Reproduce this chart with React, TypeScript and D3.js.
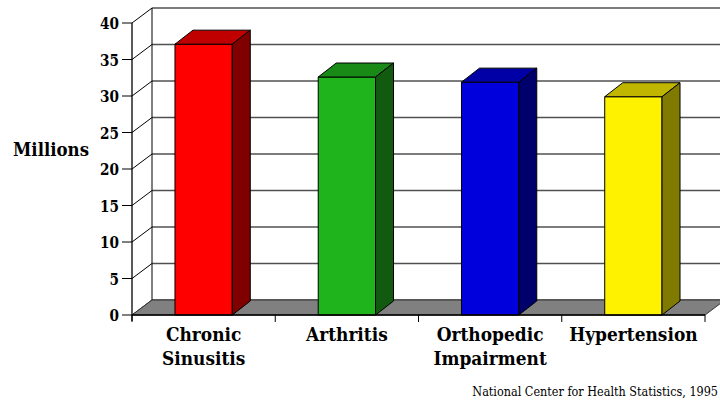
import * as d3 from "d3";

// chart data
const categories = ["Chronic Sinusitis", "Arthritis", "Orthopedic Impairment", "Hypertension"];
const labelLines = [["Chronic", "Sinusitis"], ["Arthritis"], ["Orthopedic", "Impairment"], ["Hypertension"]];
const values = [37.1, 32.6, 31.9, 29.9];
const yTicks = [0, 5, 10, 15, 20, 25, 30, 35, 40];

// front / top / side shades for each bar
const faceColors = ["#ff0000", "#20b41c", "#0000dd", "#fff200"];
const topColors = ["#c00000", "#1a8a16", "#0000a6", "#c0b600"];
const sideColors = ["#800000", "#125a10", "#00006c", "#807a00"];

const W = 720;
const H = 400;
const left = 132;
const right = 705;
const bottom = 315;
const top = 23;
// depth of the walls and of the bars
const wallDx = 20;
const wallDy = -15;
const barDx = 18;
const barDy = -14;

// DejaVu Serif is the only serif face available; squeeze it to look like Times
const font = "'DejaVu Serif', serif";

export default function App() {
  const x = d3
    .scaleBand<string>()
    .domain(categories)
    .range([left, right])
    .paddingInner(0.6)
    .paddingOuter(0.3);
  const y = d3.scaleLinear().domain([0, 40]).range([bottom, top]);
  const step = x.step();
  const bw = x.bandwidth();

  const pts = (p: number[][]) => p.map((d) => d.join(",")).join(" ");

  return (
    <svg
      width={W}
      height={H}
      style={{ position: "absolute", left: 0, top: 0, background: "#fff" }}
      fontFamily={font}
    >
      {/* back wall grid lines */}
      {yTicks.map((t) => (
        <line
          key={"g" + t}
          x1={left + wallDx}
          x2={W + 10}
          y1={y(t) + wallDy}
          y2={y(t) + wallDy}
          stroke="#505050"
          strokeWidth={1.3}
        />
      ))}
      {/* side wall */}
      <line x1={left + wallDx} x2={left + wallDx} y1={y(40) + wallDy} y2={y(0) + wallDy} stroke="#000" />
      {yTicks.map((t) => (
        <line
          key={"d" + t}
          x1={left}
          y1={y(t)}
          x2={left + wallDx}
          y2={y(t) + wallDy}
          stroke="#000"
        />
      ))}
      {/* floor */}
      <polygon
        points={pts([
          [left, bottom],
          [right, bottom],
          [right + wallDx, bottom + wallDy],
          [left + wallDx, bottom + wallDy],
        ])}
        fill="#808080"
        stroke="#333"
      />
      {/* bars */}
      {categories.map((c, i) => {
        const x0 = x(c)!;
        const x1 = x0 + bw;
        const yt = y(values[i]);
        return (
          <g key={c} stroke="#000" strokeWidth={1} strokeLinejoin="round">
            <rect x={x0} y={yt} width={bw} height={bottom - yt} fill={faceColors[i]} />
            <polygon
              points={pts([
                [x0, yt],
                [x1, yt],
                [x1 + barDx, yt + barDy],
                [x0 + barDx, yt + barDy],
              ])}
              fill={topColors[i]}
            />
            <polygon
              points={pts([
                [x1, yt],
                [x1 + barDx, yt + barDy],
                [x1 + barDx, bottom + barDy],
                [x1, bottom],
              ])}
              fill={sideColors[i]}
            />
          </g>
        );
      })}
      {/* front axes */}
      <line x1={left} x2={left} y1={y(40)} y2={bottom + 6} stroke="#000" strokeWidth={1.3} />
      <line x1={left} x2={right} y1={bottom} y2={bottom} stroke="#000" strokeWidth={1.3} />
      {d3.range(categories.length + 1).map((i) => (
        <line
          key={"xt" + i}
          x1={left + i * step}
          x2={left + i * step}
          y1={bottom}
          y2={bottom + 7}
          stroke="#000"
        />
      ))}
      {yTicks.map((t) => (
        <g key={"yt" + t}>
          <line x1={left - 10} x2={left} y1={y(t)} y2={y(t)} stroke="#000" />
          <text
            transform={`translate(${left - 13},${y(t)}) scale(0.78,1)`}
            dy="0.36em"
            textAnchor="end"
            fontWeight="bold"
            fontSize={17.5}
            fill="#000"
          >
            {t}
          </text>
        </g>
      ))}
      <text
        x={13}
        y={156}
        fontWeight="bold"
        fontSize={18.5}
        textLength={76}
        lengthAdjust="spacingAndGlyphs"
        fill="#000"
      >
        Millions
      </text>
      {/* category labels */}
      {categories.map((c, i) => (
        <text
          key={"l" + c}
          transform={`translate(${x(c)! + bw / 2},341) scale(0.92,1)`}
          textAnchor="middle"
          fontWeight="bold"
          fontSize={18.5}
          fill="#000"
        >
          {labelLines[i].map((s, j) => (
            <tspan key={s} x={0} dy={j === 0 ? 0 : 24}>
              {s}
            </tspan>
          ))}
        </text>
      ))}
      <text
        transform="translate(718,396) scale(0.9,1)"
        textAnchor="end"
        fontSize={12.5}
        fill="#000"
      >
        National Center for Health Statistics, 1995
      </text>
    </svg>
  );
}
